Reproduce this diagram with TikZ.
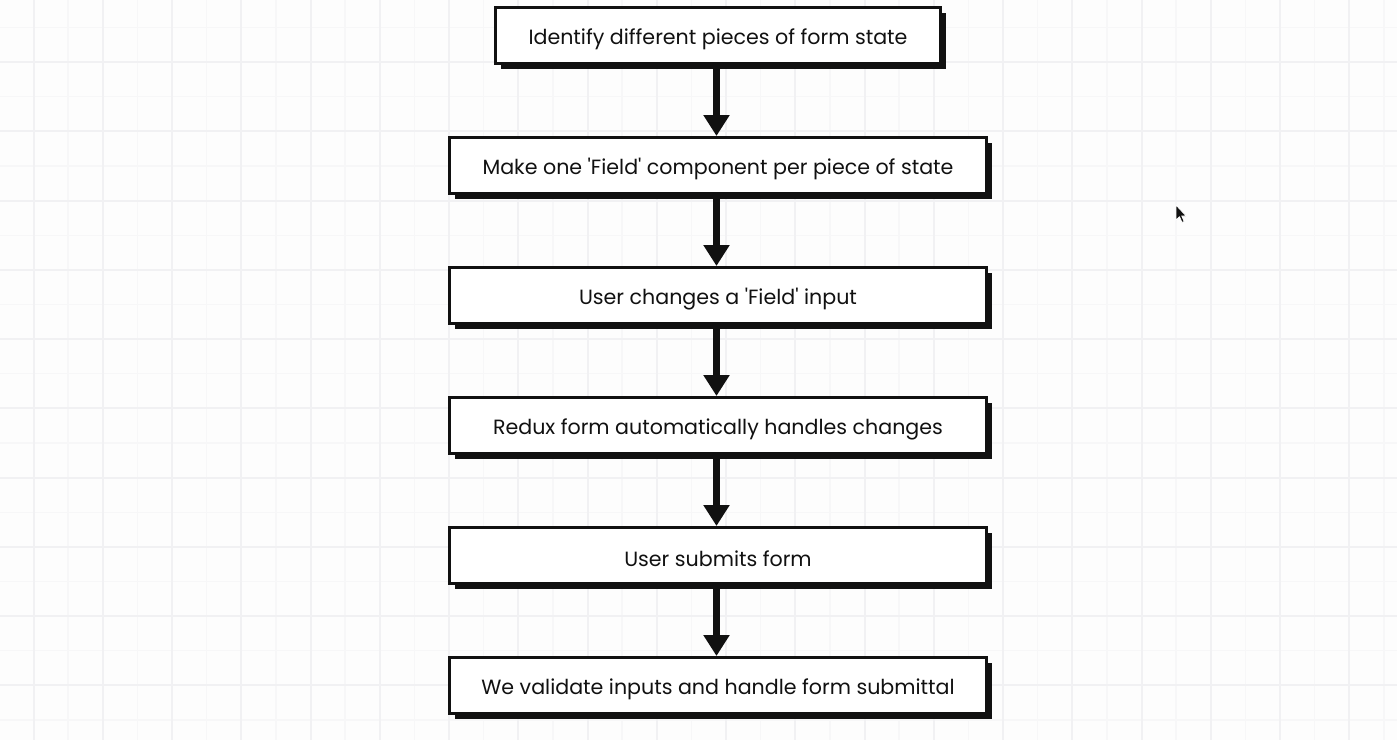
\documentclass[tikz,border=0pt]{standalone}
\usepackage{fontspec}
\setmainfont{Poppins}
\usetikzlibrary{arrows.meta,shadows}
\definecolor{bgc}{HTML}{FDFDFD}
\definecolor{gridmaj}{HTML}{F1F1F3}
\definecolor{gridmin}{HTML}{F7F7F8}
\definecolor{ink}{HTML}{111111}
\newcommand{\lbl}[1]{\raisebox{-3.5pt}[\height][\depth]{#1}}
\newcommand{\sq}{\textquotesingle}
\tikzset{
  stepbox/.style={draw=ink, line width=3pt, fill=white, minimum height=56pt,
    inner sep=0pt, font=\fontsize{20.6}{24}\selectfont, text=ink,
    drop shadow={shadow xshift=5pt, shadow yshift=-5pt, fill=ink, opacity=1}},
  flowarrow/.style={draw=ink, line width=6.5pt, -{Triangle[width=25pt,length=21pt]}},
}
\begin{document}
\begin{tikzpicture}[x=1pt,y=-1pt]
\useasboundingbox (0,0) rectangle (1397,740);
\fill[bgc] (0,0) rectangle (1397,740);
% grid
\foreach \k in {-1,...,19} {
  \draw[gridmin, line width=1.3pt] ({68.1+69.25*\k},0) -- ({68.1+69.25*\k},740);
}
\foreach \k in {-1,...,10} {
  \draw[gridmin, line width=1.3pt] (0,{27.4+69.25*\k}) -- (1397,{27.4+69.25*\k});
}
\foreach \k in {0,...,19} {
  \draw[gridmaj, line width=2pt] ({33.5+69.25*\k},0) -- ({33.5+69.25*\k},740);
}
\foreach \k in {0,...,10} {
  \draw[gridmaj, line width=2pt] (0,{62+69.25*\k}) -- (1397,{62+69.25*\k});
}
% boxes
\node[stepbox, minimum width=445pt] (b1) at (718,35.5) {\lbl{Identify different pieces of form state}};
\node[stepbox, minimum width=537pt] (b2) at (718,165.5) {\lbl{Make one \sq Field\sq{} component per piece of state}};
\node[stepbox, minimum width=537pt] (b3) at (718,295.5) {\lbl{User changes a \sq Field\sq{} input}};
\node[stepbox, minimum width=537pt] (b4) at (718,425.5) {\lbl{Redux form automatically handles changes}};
\node[stepbox, minimum width=537pt] (b5) at (718,555.5) {\lbl{User submits form}};
\node[stepbox, minimum width=537pt] (b6) at (718,685.5) {\lbl{We validate inputs and handle form submittal}};
% arrows
\foreach \a/\b in {b1/b2,b2/b3,b3/b4,b4/b5,b5/b6} {
  \draw[flowarrow] ([xshift=-1.5pt]\a.south) -- ([xshift=-1.5pt]\b.north);
}
% mouse pointer
\filldraw[fill=ink, draw=white, line width=0.8pt]
  (1176,205) -- (1176,220) -- (1179.5,216.8) -- (1182,222.5) -- (1184.2,221.5)
  -- (1181.8,216) -- (1186.2,216) -- cycle;
\end{tikzpicture}
\end{document}
